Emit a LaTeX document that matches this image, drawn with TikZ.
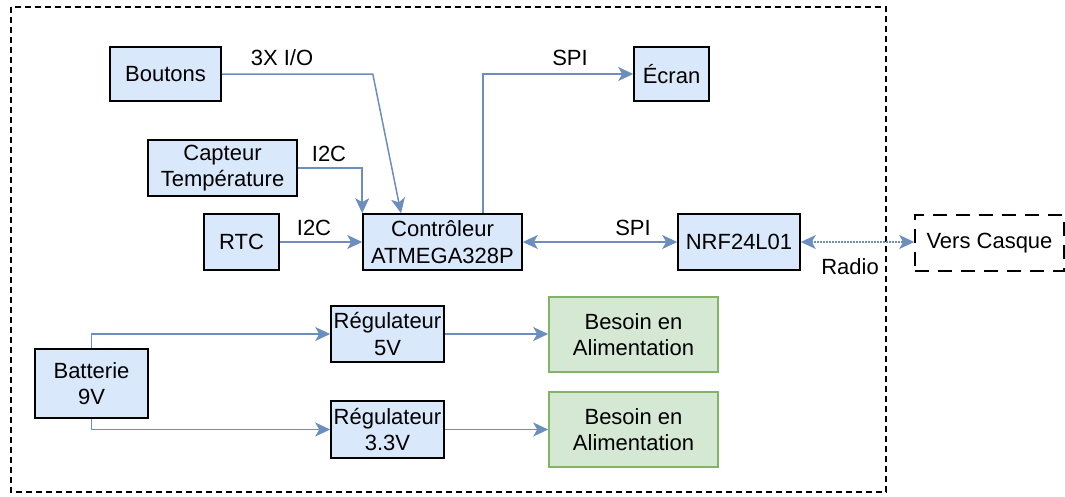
\documentclass[tikz,border=0pt]{standalone}
\usepackage{fontspec}
\setmainfont{Liberation Sans}
\usetikzlibrary{arrows.meta}
\definecolor{bfill}{HTML}{DAE8FC}
\definecolor{gfill}{HTML}{D5E8D4}
\definecolor{gdraw}{HTML}{82B366}
\definecolor{link}{HTML}{6C8EBF}
\begin{document}
\begin{tikzpicture}[x=1pt,y=-1pt,
  font=\fontsize{22}{26.5}\selectfont,
  bx/.style={draw=black, fill=bfill, line width=1.6pt, inner sep=0pt, align=center, rectangle},
  gbx/.style={draw=gdraw, fill=gfill, line width=1.6pt, inner sep=0pt, align=center, rectangle},
  arr/.style={draw=link, line width=1.5pt, -{Stealth[length=15pt,width=14pt,inset=4pt]}},
  darr/.style={draw=link, line width=1.5pt, {Stealth[length=15pt,width=14pt,inset=4pt]}-{Stealth[length=15pt,width=14pt,inset=4pt]}},
  lbl/.style={inner sep=0pt, anchor=center}]
\useasboundingbox (0,0) rectangle (1065,496);
\draw[line width=1.3pt, dash pattern=on 6pt off 4pt] (11,7) rectangle (886,492);
% nodes
\node[bx, minimum width=111pt, minimum height=54pt] (bout) at (165.5,74) {Boutons};
\node[bx, minimum width=149pt, minimum height=56pt] (capt) at (222.5,168) {Capteur\\Température};
\node[bx, minimum width=75pt, minimum height=56pt] (rtc) at (241.5,242) {RTC};
\node[bx, minimum width=159pt, minimum height=56pt] (ctrl) at (442.5,242) {Contrôleur\\ATMEGA328P};
\node[bx, minimum width=75pt, minimum height=54pt] (ecran) at (671.5,74) {Écran};
\node[bx, minimum width=122pt, minimum height=56pt] (nrf) at (739,242) {NRF24L01};
\node[draw=black, line width=1.6pt, dash pattern=on 14pt off 9pt, inner sep=0pt, minimum width=149pt, minimum height=56pt] (vers) at (989.5,243) {Vers Casque};
\node[bx, minimum width=113pt, minimum height=69pt] (batt) at (91.5,383.5) {Batterie\\9V};
\node[bx, minimum width=113pt, minimum height=56pt] (reg5) at (387.5,334) {Régulateur\\5V};
\node[bx, minimum width=113pt, minimum height=57pt] (reg33) at (387.5,429.5) {Régulateur\\3.3V};
\node[gbx, minimum width=169pt, minimum height=75pt] (bes1) at (633.5,334.5) {Besoin en\\Alimentation};
\node[gbx, minimum width=169pt, minimum height=75pt] (bes2) at (633.5,429.5) {Besoin en\\Alimentation};
% connectors
\draw[arr] (bout.east) -- ++(151,0) -- ([xshift=-41.5pt]ctrl.north);
\draw[arr] (capt.east) -| (ctrl.north west);
\draw[arr] (rtc.east) -- (ctrl.west);
\draw[arr] ([xshift=40.5pt]ctrl.north) |- (ecran.west);
\draw[darr] (ctrl.east) -- (nrf.west);
\draw[darr, dash pattern=on 1.5pt off 1.5pt] (nrf.east) -- (vers.west |- nrf.east);
\draw[arr] (batt.north) |- (reg5.west);
\draw[arr] (batt.south) |- (reg33.west);
\draw[arr] (reg5.east) -- (bes1.west |- reg5.east);
\draw[arr] (reg33.east) -- (bes2.west |- reg33.east);
% labels
\node[lbl] (l1) at (282,58) {3X I/O};
\node[lbl] (l2) at (329,154) {I2C};
\node[lbl] (l3) at (314,228) {I2C};
\node[lbl] (l4) at (570,58) {SPI};
\node[lbl] (l5) at (633,228) {SPI};
\node[lbl] (l6) at (850,267) {Radio};
\end{tikzpicture}
\end{document}
